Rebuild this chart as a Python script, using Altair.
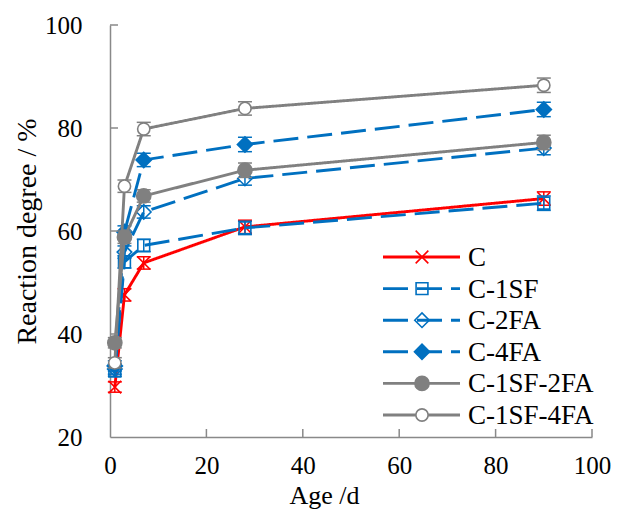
import altair as alt
import pandas as pd

ages = [1, 3, 7, 28, 90]
series_names = ["C", "C-1SF", "C-2FA", "C-4FA", "C-1SF-2FA", "C-1SF-4FA"]
values = {
    "C":         [29.7, 47.6, 53.8, 60.8, 66.3],
    "C-1SF":     [32.8, 54.0, 57.2, 60.6, 65.4],
    "C-2FA":     [33.2, 55.9, 63.7, 70.2, 76.1],
    "C-4FA":     [33.8, 59.8, 73.8, 76.8, 83.6],
    "C-1SF-2FA": [38.3, 58.8, 66.8, 71.8, 77.2],
    "C-1SF-4FA": [34.4, 68.7, 79.8, 83.8, 88.3],
}
errors = {
    "C":         [1.0, 1.2, 1.2, 1.3, 1.3],
    "C-1SF":     [1.0, 1.2, 1.2, 1.3, 1.4],
    "C-2FA":     [1.0, 1.2, 1.2, 1.3, 1.3],
    "C-4FA":     [1.0, 1.2, 1.3, 1.4, 1.4],
    "C-1SF-2FA": [1.0, 1.2, 1.2, 1.4, 1.4],
    "C-1SF-4FA": [1.0, 1.2, 1.3, 1.3, 1.4],
}
x_ticks = [0, 20, 40, 60, 80, 100]
y_ticks = [20, 40, 60, 80, 100]

RED = "#FF0000"
BLUE = "#0070C0"
GRAY = "#808080"
XPATH = "M -1 -1 L 1 1 M -1 1 L 1 -1"

styles = {
    "C":         dict(color=RED,  dash=[1, 0],  shape=XPATH,     size=160, filled=False, fill=None),
    "C-1SF":     dict(color=BLUE, dash=[25, 9], shape="square",  size=140, filled=False, fill=None),
    "C-2FA":     dict(color=BLUE, dash=[25, 9], shape="diamond", size=210, filled=False, fill=None),
    "C-4FA":     dict(color=BLUE, dash=[25, 9], shape="diamond", size=230, filled=True,  fill=BLUE),
    "C-1SF-2FA": dict(color=GRAY, dash=[1, 0],  shape="circle",  size=200, filled=True,  fill=GRAY),
    "C-1SF-4FA": dict(color=GRAY, dash=[1, 0],  shape="circle",  size=150, filled=True,  fill="white"),
}

W, H = 482, 412
FONT = "Liberation Serif"

xscale = alt.Scale(domain=[0, 100], nice=False, zero=False)
yscale = alt.Scale(domain=[20, 100], nice=False, zero=False)

layers = []
for name in series_names:
    st = styles[name]
    df = pd.DataFrame({
        "age": ages,
        "val": values[name],
        "lo": [v - e for v, e in zip(values[name], errors[name])],
        "hi": [v + e for v, e in zip(values[name], errors[name])],
        "series": name,
    })
    base = alt.Chart(df)
    line = base.mark_line(color=st["color"], strokeWidth=2.9, strokeDash=st["dash"]).encode(
        x=alt.X("age:Q", scale=xscale,
                axis=alt.Axis(values=x_ticks, title="Age /d", titleX=214, titleY=58,
                              titleFontSize=26,
                              titleBaseline="middle", titleAlign="center", labelPadding=16,
                              labelFlush=False, labelFont=FONT, titleFont=FONT)),
        y=alt.Y("val:Q", scale=yscale,
                axis=alt.Axis(values=y_ticks, title="Reaction degree / %", titleX=-83, titleY=206,
                              titleAngle=270, titleBaseline="middle", titleAlign="center",
                              labelPadding=28, labelFlush=False, labelFont=FONT, titleFont=FONT)),
    )
    err = base.mark_rule(color=st["color"], strokeWidth=1.5).encode(
        x="age:Q", y="lo:Q", y2="hi:Q")
    cap_lo = base.mark_rule(color=st["color"], strokeWidth=1.5, xOffset=-7, x2Offset=7).encode(
        x="age:Q", x2="age:Q", y="lo:Q")
    cap_hi = base.mark_rule(color=st["color"], strokeWidth=1.5, xOffset=-7, x2Offset=7).encode(
        x="age:Q", x2="age:Q", y="hi:Q")
    pt_kwargs = dict(shape=st["shape"], size=st["size"], stroke=st["color"], strokeWidth=1.6,
                     opacity=1, filled=st["filled"])
    if st["fill"] is not None:
        pt_kwargs["fill"] = st["fill"]
    pts = base.mark_point(**pt_kwargs).encode(x="age:Q", y="val:Q")
    layers += [line, err, cap_lo, cap_hi, pts]

# inward axis ticks
xt = alt.Chart(pd.DataFrame({"t": x_ticks[1:]})).mark_rule(color="#898989", strokeWidth=1.5).encode(
    x="t:Q", y=alt.value(H), y2=alt.value(H - 8))
yt = alt.Chart(pd.DataFrame({"t": y_ticks[1:]})).mark_rule(color="#898989", strokeWidth=1.5).encode(
    y="t:Q", x=alt.value(0), x2=alt.value(8))
layers += [xt, yt]

# legend
LX0, LX1, LXM, LXT, LY0, LDY = 273, 350, 312, 358, 232, 31.6
for i, name in enumerate(series_names):
    st = styles[name]
    ly = LY0 + LDY * i
    ldf = pd.DataFrame({"series": [name]})
    lb = alt.Chart(ldf)
    layers.append(lb.mark_rule(color=st["color"], strokeWidth=2.9, strokeDash=st["dash"]).encode(
        x=alt.value(LX0), x2=alt.value(LX1), y=alt.value(ly)))
    pt_kwargs = dict(shape=st["shape"], size=st["size"], stroke=st["color"], strokeWidth=1.6,
                     opacity=1, filled=st["filled"])
    if st["fill"] is not None:
        pt_kwargs["fill"] = st["fill"]
    layers.append(lb.mark_point(**pt_kwargs).encode(x=alt.value(LXM), y=alt.value(ly)))
    layers.append(lb.mark_text(align="left", baseline="middle", font=FONT, fontSize=27,
                               color="black").encode(
        x=alt.value(LXT), y=alt.value(ly + 1), text="series:N"))

chart = alt.layer(*layers).properties(
    width=W, height=H,
    padding={"left": 110, "top": 25, "right": 25, "bottom": 76},
    autosize=alt.AutoSizeParams(type="none"),
).configure_view(stroke=None).configure_axis(
    grid=False, ticks=False, tickSize=0,
    domainColor="#898989", domainWidth=1.5,
    labelFont=FONT, labelFontSize=25, labelColor="black",
    titleFont=FONT, titleFontSize=28, titleFontWeight="normal", titleColor="black",
)

chart.save("out.html", embed_options={"renderer": "svg", "actions": False})
